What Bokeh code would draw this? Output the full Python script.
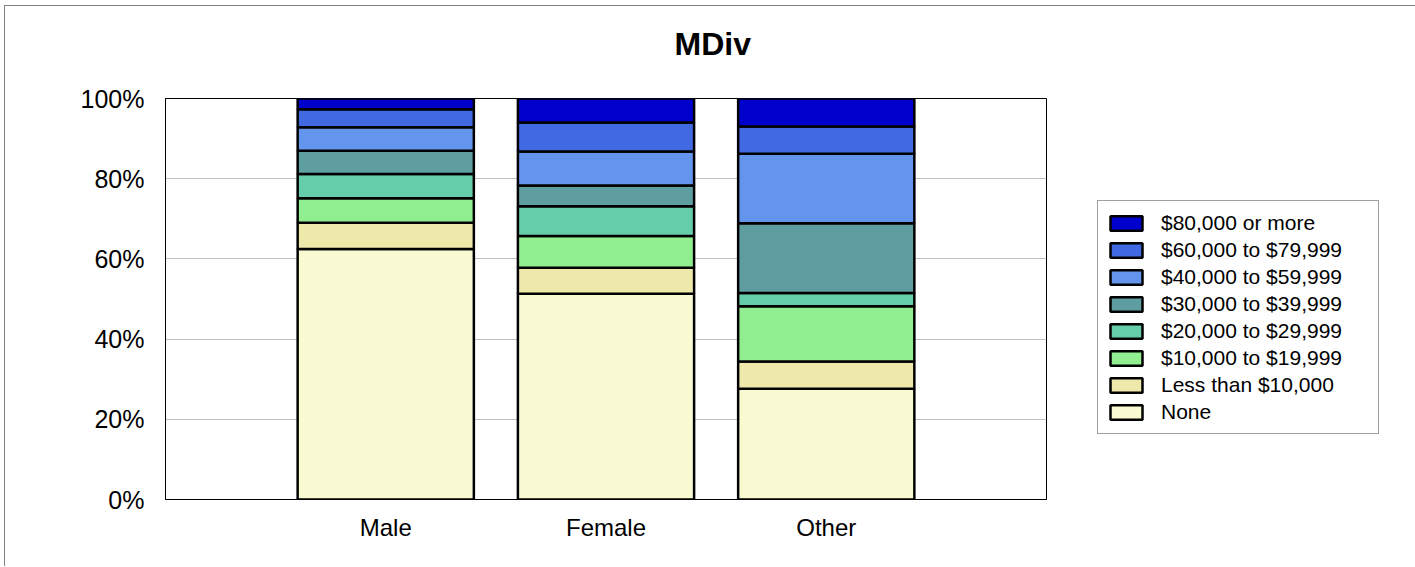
from bokeh.plotting import figure
from bokeh.models import (ColumnDataSource, Legend, LegendItem, FixedTicker,
                          PrintfTickFormatter, Title, Range1d)
from bokeh.embed import file_html
from bokeh.resources import INLINE

# ---------------- data ----------------
categories = ["Male", "Female", "Other"]
bands = ["None", "Less than $10,000", "$10,000 to $19,999", "$20,000 to $29,999",
         "$30,000 to $39,999", "$40,000 to $59,999", "$60,000 to $79,999",
         "$80,000 or more"]
none_vals = [62.5, 51.3, 27.6]
lt10k_vals = [6.5, 6.5, 6.8]
k10_vals = [6.1, 7.9, 13.8]
k20_vals = [6.1, 7.4, 3.3]
k30_vals = [5.8, 5.2, 17.4]
k40_vals = [5.8, 8.5, 17.3]
k60_vals = [4.5, 7.2, 6.8]
k80_vals = [2.7, 6.0, 7.0]
colors = ["#FAFAD2", "#EEE8AA", "#90EE90", "#66CDAA", "#5F9EA0", "#6495ED",
          "#4169E1", "#0000CD"]
y_ticks = [0, 20, 40, 60, 80, 100]

series = [none_vals, lt10k_vals, k10_vals, k20_vals, k30_vals, k40_vals,
          k60_vals, k80_vals]
keys = ["s%d" % i for i in range(len(bands))]
xpos = [i + 1 for i in range(len(categories))]
data = {"x": xpos}
for k, s in zip(keys, series):
    data[k] = s
source = ColumnDataSource(data)

FONT = "Liberation Sans"

p = figure(output_backend="svg", toolbar_location=None,
           frame_width=881, frame_height=401,
           min_border_left=160, min_border_right=367,
           min_border_top=92, min_border_bottom=67,
           x_range=Range1d(0, 4), y_range=Range1d(0, 100),
           background_fill_color="white", border_fill_color="white",
           title=None)
p.styles = {"border-left": "1px solid #808080", "border-top": "1px solid #808080",
            "margin-left": "4px", "margin-top": "5px"}

renderers = p.vbar_stack(keys, x="x", width=0.8, source=source,
                         fill_color=colors, line_color="black", line_width=2.5)

# axes
p.xaxis.ticker = FixedTicker(ticks=xpos)
p.xaxis.major_label_overrides = {x: c for x, c in zip(xpos, categories)}
p.yaxis.ticker = FixedTicker(ticks=y_ticks)
p.yaxis.formatter = PrintfTickFormatter(format="%d%%")
for ax in (p.xaxis, p.yaxis):
    ax.major_tick_line_color = None
    ax.minor_tick_line_color = None
    ax.axis_line_color = "black"
    ax.axis_line_width = 1
    ax.major_label_text_font = FONT
    ax.major_label_text_color = "black"
p.yaxis.major_label_text_font_size = "25px"
p.xaxis.major_label_text_font_size = "24px"
p.yaxis.major_label_standoff = 15
p.xaxis.major_label_standoff = 8

p.xgrid.grid_line_color = None
p.ygrid.grid_line_color = "#c0c0c0"
p.ygrid.grid_line_width = 1
p.outline_line_color = "black"
p.outline_line_width = 1
p.outline_line_alpha = 1

# spacer between frame and title, then the title itself
spacer = Title(text=" ", text_font=FONT, text_font_size="10px",
               text_color="white", standoff=7)
p.add_layout(spacer, "above")
title = Title(text="MDiv", text_font=FONT, text_font_size="32px",
              text_font_style="bold", text_color="black", align="left",
              offset=509, standoff=33)
p.add_layout(title, "above")

# legend (top item first)
items = [LegendItem(label=b, renderers=[r]) for b, r in zip(bands, renderers)][::-1]
legend = Legend(items=items, location=(51, 65), orientation="vertical",
                glyph_width=40, glyph_height=18, label_standoff=15,
                label_height=27, label_width=209, spacing=0, padding=8, margin=0,
                label_text_font=FONT, label_text_font_size="21px",
                label_text_color="black",
                border_line_color="#404040", border_line_width=1,
                background_fill_color="white", background_fill_alpha=1)
p.add_layout(legend, "right")

open("out.html", "w").write(file_html(p, INLINE))
